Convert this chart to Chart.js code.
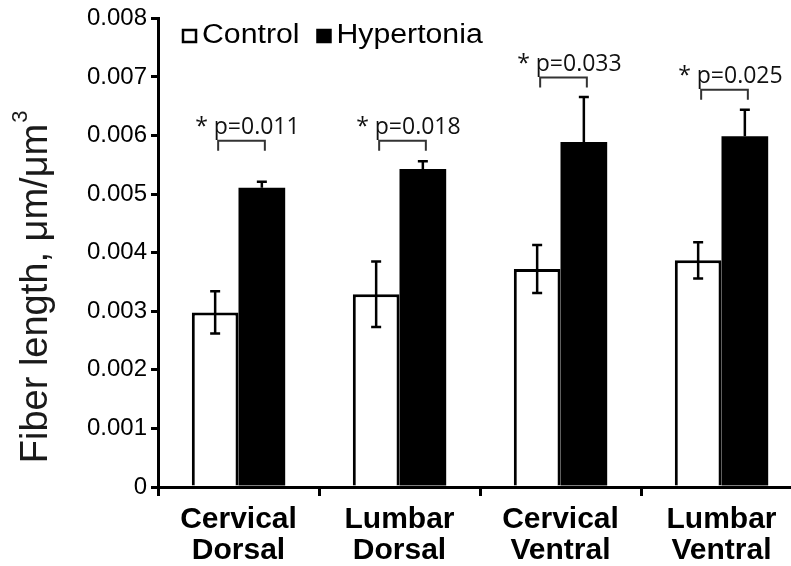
<!DOCTYPE html>
<html>
<head>
<meta charset="utf-8">
<script src="https://cdn.jsdelivr.net/npm/chart.js@4.4.1/dist/chart.umd.min.js"></script>
<style>
  html, body { margin: 0; padding: 0; background: #fff; overflow: hidden; }
  #wrap { width: 802px; height: 566px; }
</style>
</head>
<body>
<div id="wrap"><canvas id="myChart"></canvas></div>
<script>
// values
var categories = [['Cervical', 'Dorsal'], ['Lumbar', 'Dorsal'], ['Cervical', 'Ventral'], ['Lumbar', 'Ventral']];
var control = [0.00298, 0.00329, 0.00372, 0.00387];
var controlErr = [0.00036, 0.00056, 0.00041, 0.00031];
var hypertonia = [0.00511, 0.00543, 0.00589, 0.00599];
var hypertoniaErr = [0.0001, 0.00013, 0.00077, 0.00045];
var pValues = ['0.011', '0.018', '0.033', '0.025'];
var bracketLevel = [0.00591, 0.00591, 0.00699, 0.00678];
var yTicks = [0, 0.001, 0.002, 0.003, 0.004, 0.005, 0.006, 0.007, 0.008];

var errorBars = {
    id: 'errorBars',
    afterDatasetsDraw: function(chart) {
        var ctx = chart.ctx;
        var y = chart.scales.y;
        var errs = [controlErr, hypertoniaErr];
        ctx.save();
        ctx.strokeStyle = '#000';
        ctx.lineWidth = 2.5;
        chart.data.datasets.forEach(function(ds, i) {
            var meta = chart.getDatasetMeta(i);
            meta.data.forEach(function(bar, j) {
                var v = ds.data[j];
                var top = y.getPixelForValue(v + errs[i][j]);
                var bottom = i == 0 ? y.getPixelForValue(v - errs[i][j]) : y.getPixelForValue(v);
                ctx.beginPath();
                ctx.moveTo(bar.x, top);
                ctx.lineTo(bar.x, bottom);
                ctx.moveTo(bar.x - 5, top);
                ctx.lineTo(bar.x + 5, top);
                if (i == 0) {
                    ctx.moveTo(bar.x - 5, bottom);
                    ctx.lineTo(bar.x + 5, bottom);
                }
                ctx.stroke();
            });
        });

        // significance brackets
        var c = chart.getDatasetMeta(0).data;
        var h = chart.getDatasetMeta(1).data;
        ctx.strokeStyle = '#333';
        ctx.lineWidth = 2;
        ctx.fillStyle = '#111';
        ctx.font = '23px "Open Sans"';
        ctx.textAlign = 'left';
        ctx.textBaseline = 'alphabetic';
        for (var k = 0; k < pValues.length; k++) {
            var by = y.getPixelForValue(bracketLevel[k]);
            var x1 = c[k].x + 3, x2 = h[k].x + 3;
            ctx.beginPath();
            ctx.moveTo(x1, by + 10);
            ctx.lineTo(x1, by);
            ctx.lineTo(x2, by);
            ctx.lineTo(x2, by + 10);
            ctx.stroke();
            ctx.fillText('* p=' + pValues[k], c[k].x - 20, by - 7);
        }
        ctx.restore();
    },
    afterDraw: function(chart) {
        var ctx = chart.ctx;
        var area = chart.chartArea;
        ctx.save();
        // y axis title
        ctx.translate(37, 287);
        ctx.rotate(-Math.PI / 2);
        ctx.fillStyle = '#1a1a1a';
        ctx.font = '38px "Liberation Sans", Arial';
        ctx.textBaseline = 'middle';
        var t = 'Fiber length, \u03bcm/\u03bcm';
        var w = ctx.measureText(t).width;
        ctx.textAlign = 'left';
        ctx.fillText(t, -(w + 13) / 2, 0);
        ctx.font = '22px "Liberation Sans", Arial';
        ctx.fillText('3', -(w + 13) / 2 + w + 1, -16);
        ctx.restore();

        // legend
        ctx.save();
        var lx = area.left + 25;
        var ly = 36;
        ctx.font = '27px "Liberation Sans", Arial';
        ctx.textBaseline = 'middle';
        ctx.fillStyle = '#000';
        chart.data.datasets.forEach(function(ds, i) {
            ctx.fillStyle = ds.backgroundColor;
            ctx.strokeStyle = '#000';
            ctx.lineWidth = 2.5;
            ctx.fillRect(lx, ly - 6, 13, 12);
            ctx.strokeRect(lx, ly - 6, 13, 12);
            ctx.fillStyle = '#000';
            ctx.save();
            ctx.translate(lx + 19, ly);
            ctx.scale(1.12, 1);
            ctx.fillText(ds.label, 0, 0);
            var tw = ctx.measureText(ds.label).width * 1.12;
            ctx.restore();
            lx = lx + 19 + tw + 18;
        });
        ctx.restore();
    }
};

var chartCtx = document.getElementById('myChart').getContext('2d');
var barChart = new Chart(chartCtx, {
    type: 'bar',
    data: {
        labels: categories,
        datasets: [{
            label: 'Control',
            data: control,
            backgroundColor: '#ffffff',
            borderColor: '#000000',
            borderWidth: 3,
            categoryPercentage: 0.58,
            barPercentage: 1.0
        }, {
            label: 'Hypertonia',
            data: hypertonia,
            backgroundColor: '#000000',
            borderColor: '#000000',
            borderWidth: 0,
            categoryPercentage: 0.58,
            barPercentage: 1.0
        }]
    },
    options: {
        responsive: true,
        maintainAspectRatio: false,
        animation: false,
        layout: { padding: { left: 0, right: 0, top: 8, bottom: 0 } },
        plugins: {
            legend: { display: false },
            tooltip: { enabled: false }
        },
        scales: {
            x: {
                border: { display: true, color: '#000', width: 3 },
                grid: { display: true, drawOnChartArea: false, drawTicks: true, tickLength: 9, lineWidth: 3, color: '#000', offset: true },
                ticks: {
                    color: '#000',
                    font: { family: '"Liberation Sans", Arial', size: 30, weight: 'bold', lineHeight: 1.03 },
                    padding: 8,
                    maxRotation: 0
                },
                afterFit: function(scale) { scale.height = 79; }
            },
            y: {
                min: 0,
                max: 0.008,
                border: { display: true, color: '#000', width: 3 },
                grid: { display: true, drawOnChartArea: false, drawTicks: true, tickLength: 7, lineWidth: 3, color: '#000' },
                afterBuildTicks: function(scale) {
                    scale.ticks = yTicks.map(function(v) { return { value: v }; });
                },
                ticks: {
                    color: '#000',
                    font: { family: '"Liberation Sans", Arial', size: 24 },
                    padding: 4,
                    callback: function(value) { return value === 0 ? '0' : value.toFixed(3); }
                },
                afterFit: function(scale) { scale.width = 158; }
            }
        }
    },
    plugins: [errorBars]
});
</script>
</body>
</html>
